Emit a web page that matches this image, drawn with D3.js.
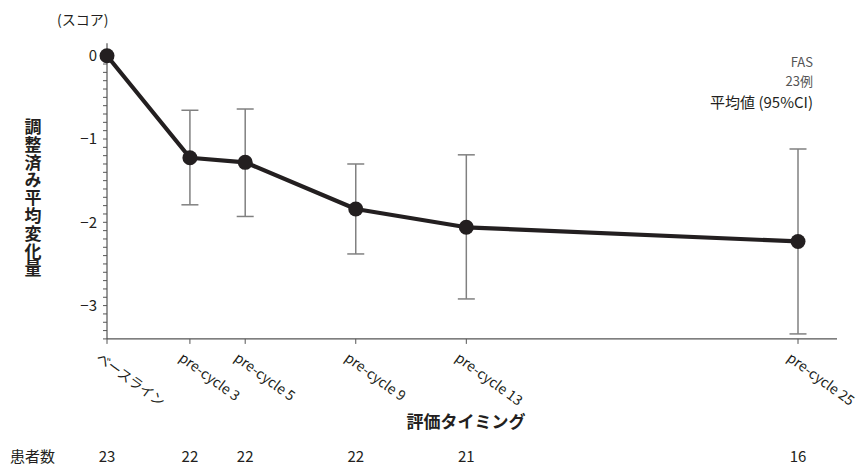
<!DOCTYPE html>
<meta charset="utf-8">
<style>
body { margin: 0; background: #fff; }
text { font-family: "Noto Sans CJK JP", "Noto Sans", sans-serif; fill: #231f20; }
</style>
<svg width="861" height="466"></svg>
<script src="https://cdn.jsdelivr.net/npm/d3@7"></script>
<script>

// data
var labels = ["ベースライン", "pre-cycle 3", "pre-cycle 5", "pre-cycle 9", "pre-cycle 13", "pre-cycle 25"];
var cycles = [0, 3, 5, 9, 13, 25];
var means  = [0, -1.225, -1.28, -1.84, -2.06, -2.23];
var upper  = [null, -0.655, -0.64, -1.30, -1.19, -1.12];
var lower  = [null, -1.79, -1.93, -2.38, -2.92, -3.34];
var counts = [23, 22, 22, 22, 21, 16];

var svg = d3.select("svg");

var x = d3.scaleLinear().domain([0, 25]).range([107, 798]);
var y = d3.scaleLinear().domain([0, -3]).range([55.7, 305.6]);

var data = cycles.map(function(c, i) {
  return {c: c, m: means[i], hi: upper[i], lo: lower[i], n: counts[i], label: labels[i]};
});

// y axis
var yAxis = svg.append("g").attr("transform", "translate(107,0)");
yAxis.append("line")
    .attr("y1", y(0.15)).attr("y2", y(-3.4))
    .attr("stroke", "#555").attr("stroke-width", 1.2);
yAxis.selectAll(".minor")
  .data(d3.range(0, 35).map(function(i) { return -i / 10; }))
  .enter().append("line")
    .attr("x1", -4).attr("x2", 0)
    .attr("y1", function(d) { return y(d); })
    .attr("y2", function(d) { return y(d); })
    .attr("stroke", "#555").attr("stroke-width", 1);
yAxis.selectAll(".ylab")
  .data([0, -1, -2, -3])
  .enter().append("text")
    .attr("x", -10)
    .attr("y", function(d) { return y(d); })
    .attr("dy", "0.35em")
    .attr("text-anchor", "end")
    .style("font-size", "15px")
    .text(function(d) { return d === 0 ? "0" : "\u2212" + Math.abs(d); });

// x axis
var xAxis = svg.append("g").attr("transform", "translate(0," + y(-3.4) + ")");
xAxis.append("line")
    .attr("x1", 107).attr("x2", 837)
    .attr("stroke", "#555").attr("stroke-width", 1.2);
xAxis.selectAll(".xt")
  .data(data)
  .enter().append("line")
    .attr("x1", function(d) { return x(d.c); })
    .attr("x2", function(d) { return x(d.c); })
    .attr("y1", 0).attr("y2", 5)
    .attr("stroke", "#555");
xAxis.selectAll(".xl")
  .data(data)
  .enter().append("text")
    .attr("transform", function(d) {
      return "translate(" + (x(d.c) - 12) + ",21) rotate(36)";
    })
    .style("font-size", "14px")
    .style("letter-spacing", function(d, i) { return i === 0 ? "-0.5px" : null; })
    .text(function(d) { return d.label; });

// error bars
var eb = svg.append("g").attr("stroke", "#808080").attr("stroke-width", 1.5);
var withCI = data.filter(function(d) { return d.hi !== null; });
eb.selectAll(".v").data(withCI).enter().append("line")
    .attr("x1", function(d) { return x(d.c); })
    .attr("x2", function(d) { return x(d.c); })
    .attr("y1", function(d) { return y(d.hi); })
    .attr("y2", function(d) { return y(d.lo); });
["hi", "lo"].forEach(function(k) {
  eb.selectAll(".cap-" + k).data(withCI).enter().append("line")
      .attr("x1", function(d) { return x(d.c) - 8.5; })
      .attr("x2", function(d) { return x(d.c) + 8.5; })
      .attr("y1", function(d) { return y(d[k]); })
      .attr("y2", function(d) { return y(d[k]); });
});

// mean line + points
svg.append("path")
    .datum(data)
    .attr("fill", "none")
    .attr("stroke", "#231f20")
    .attr("stroke-width", 4.2)
    .attr("stroke-linejoin", "round")
    .attr("d", d3.line().x(function(d) { return x(d.c); }).y(function(d) { return y(d.m); }));
svg.selectAll(".pt").data(data).enter().append("circle")
    .attr("cx", function(d) { return x(d.c); })
    .attr("cy", function(d) { return y(d.m); })
    .attr("r", 7.5)
    .attr("fill", "#231f20");

// titles
svg.append("text").attr("x", 57).attr("y", 25)
    .style("font-size", "14px").text("(スコア)");

svg.append("text")
    .attr("x", 33).attr("y", 118)
    .style("writing-mode", "vertical-rl")
    .style("font-size", "17px").style("font-weight", "bold")
    .style("letter-spacing", "0.8px")
    .text("調整済み平均変化量");

svg.append("text").attr("x", 466).attr("y", 428)
    .attr("text-anchor", "middle")
    .style("font-size", "17px").style("font-weight", "bold")
    .text("評価タイミング");

// patient counts
svg.append("text").attr("x", 10).attr("y", 462)
    .style("font-size", "15px").text("患者数");
svg.selectAll(".n").data(data).enter().append("text")
    .attr("x", function(d) { return x(d.c); })
    .attr("y", 462)
    .attr("text-anchor", "middle")
    .style("font-size", "15px")
    .text(function(d) { return d.n; });

// legend note
var note = svg.append("g").attr("text-anchor", "end");
note.append("text").attr("x", 813).attr("y", 67)
    .style("font-size", "13px").style("fill", "#555").text("FAS");
note.append("text").attr("x", 813).attr("y", 86)
    .style("font-size", "13px").style("fill", "#555").text("23例");
note.append("text").attr("x", 813).attr("y", 108)
    .style("font-size", "15px").text("平均値 (95%CI)");

</script>
